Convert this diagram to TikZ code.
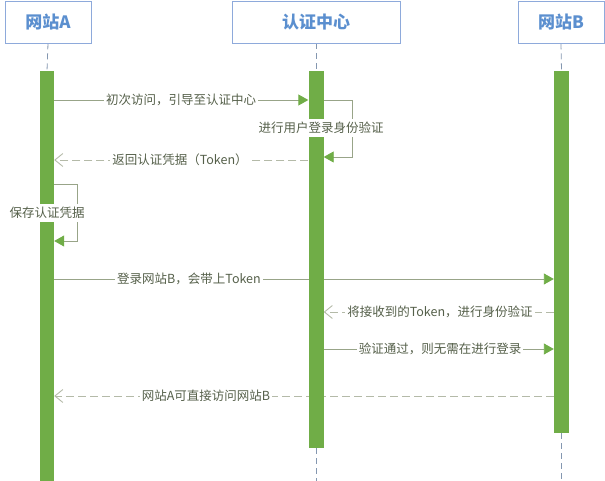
\documentclass[tikz,border=0pt]{standalone}
\usepackage{fontspec}
\newfontfamily\cjk{Noto Sans CJK SC}
\usetikzlibrary{arrows.meta,backgrounds}
\definecolor{barg}{HTML}{70AD47}
\definecolor{boxb}{HTML}{8EAADB}
\definecolor{boxt}{HTML}{5B8FCF}
\definecolor{lifel}{HTML}{8497B0}
\definecolor{msgl}{HTML}{98A488}
\definecolor{retl}{HTML}{B4BAA8}
\definecolor{txt}{HTML}{55604A}
\tikzset{
  actor/.style={draw=boxb, line width=0.8pt, fill=white, minimum height=42pt, inner sep=0pt,
    font=\cjk\bfseries\fontsize{17}{20}\selectfont, text=boxt},
  bar/.style={fill=barg, draw=none, anchor=north, inner sep=0pt, minimum width=15pt},
  life/.style={draw=lifel, dash pattern=on 6pt off 4pt, line width=0.8pt},
  call/.style={draw=msgl, line width=0.9pt, -{Triangle[length=10pt,width=11pt,color=barg]}},
  reply/.style={draw=retl, line width=0.9pt, dash pattern=on 8pt off 4pt,
    -{Straight Barb[length=8pt,width=13pt,color=retl]}},
  lbl/.style={fill=white, text=txt, font=\cjk\fontsize{12.5}{14}\selectfont, inner xsep=2pt, inner ysep=3pt}
}
\begin{document}
\begin{tikzpicture}[x=1pt,y=-1pt]
\useasboundingbox (0,0) rectangle (605,481);
% actors
\node[actor, minimum width=86pt] (A) at (48,22) {网站A};
\node[actor, minimum width=168pt] (C) at (316,22) {认证中心};
\node[actor, minimum width=86pt] (B) at (561,22) {网站B};
% activation bars
\node[bar, minimum width=14pt, minimum height=410pt] (barA) at (47,71) {};
\node[bar, minimum height=377pt] (barC) at (316,71) {};
\node[bar, minimum height=362pt] (barB) at (561.5,71) {};
\coordinate (endC) at (316,481);
\coordinate (endB) at (561.5,481);
% points on bars
\coordinate (a100) at (barA.east |- 0,100);
\coordinate (c100w) at (barC.west |- 0,100);
\coordinate (c100e) at (barC.east |- 0,100);
\coordinate (c157e) at (barC.east |- 0,157);
\coordinate (c160w) at (barC.west |- 0,160);
\coordinate (a160) at (barA.east |- 0,160);
\coordinate (a184) at (barA.east |- 0,184);
\coordinate (a241) at (barA.east |- 0,241);
\coordinate (a279) at (barA.east |- 0,279);
\coordinate (b279) at (barB.west |- 0,279);
\coordinate (b312) at (barB.west |- 0,312);
\coordinate (c312) at (barC.east |- 0,312);
\coordinate (c349) at (barC.east |- 0,349);
\coordinate (b349) at (barB.west |- 0,349);
\coordinate (b396) at (barB.west |- 0,396);
\coordinate (a396) at (barA.east |- 0,396);
\begin{pgfonlayer}{background}
\draw[life] (A.south) -- (barA.north);
\draw[life] (C.south) -- (barC.north);
\draw[life] (B.south) -- (barB.north);
\draw[life] (barC.south) -- (endC);
\draw[life] (barB.south) -- (endB);
\draw[call] (a100) -- (c100w);
\draw[call] (c100e) -- (352,100) -- (352,157) -- (c157e);
\draw[reply] (c160w) -- (a160);
\draw[call] (a184) -- (77,184) -- (77,241) -- (a241);
\draw[call] (a279) -- (b279);
\draw[reply] (b312) -- (c312);
\draw[call] (c349) -- (b349);
\draw[reply] (b396) -- (a396);
\end{pgfonlayer}
% labels
\node[lbl] (l1) at (181,100) {初次访问，引导至认证中心};
\node[lbl] (l2) at (321,128) {进行用户登录身份验证};
\node[lbl] (l3) at (180,160) {返回认证凭据（Token）};
\node[lbl] (l4) at (47,213) {保存认证凭据};
\node[lbl] (l5) at (189,279) {登录网站B，会带上Token};
\node[lbl] (l6) at (440,312) {将接收到的Token，进行身份验证};
\node[lbl] (l7) at (440,349) {验证通过，则无需在进行登录};
\node[lbl] (l8) at (206,396) {网站A可直接访问网站B};
\end{tikzpicture}
\end{document}
